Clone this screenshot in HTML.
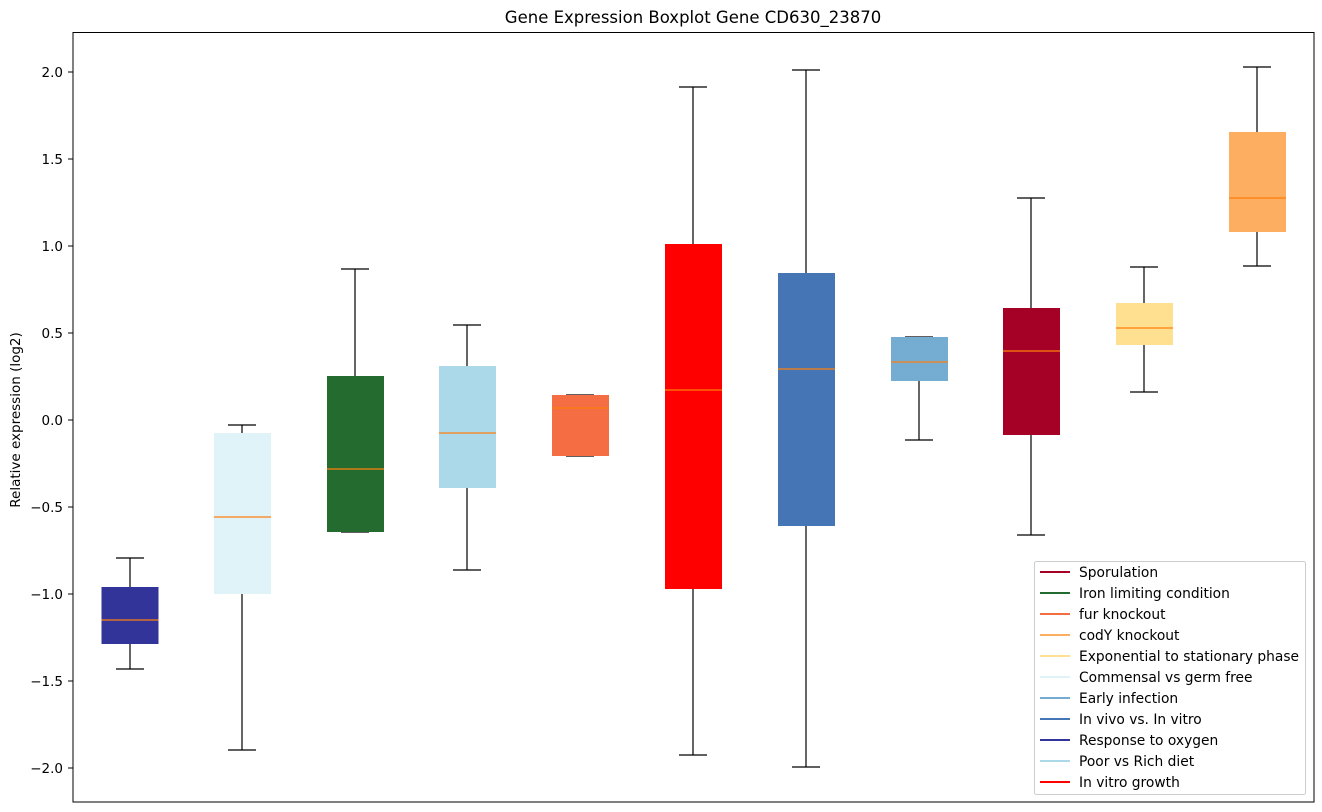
<!DOCTYPE html><html><head><style>body{margin:0;background:#fff}svg{display:block;font-family:"DejaVu Sans","Liberation Sans",sans-serif}</style></head><body>
<svg width="1322" height="812" xmlns="http://www.w3.org/2000/svg">
<rect width="1322" height="812" fill="#fff"/>
<text x="693" y="23" font-size="16.5" text-anchor="middle" fill="#000">Gene Expression Boxplot Gene CD630_23870</text>
<text transform="translate(20,420) rotate(-90)" font-size="13.5" text-anchor="middle">Relative expression (log2)</text>
<g font-size="13.5" text-anchor="end" fill="#000">
<text x="63" y="77">2.0</text><text x="63" y="164">1.5</text><text x="63" y="251">1.0</text><text x="63" y="338">0.5</text><text x="63" y="425">0.0</text><text x="63" y="512">−0.5</text><text x="63" y="599">−1.0</text><text x="63" y="686">−1.5</text><text x="63" y="773">−2.0</text>
</g>
<g stroke="#000" stroke-width="1"><path d="M68 72H73M68 159H73M68 246H73M68 333H73M68 420H73M68 507H73M68 594H73M68 681H73M68 768H73"/></g>
<g stroke="#000" stroke-width="1.2" fill="none">
<path d="M130 558V587M130 644V669M116 558H144M116 669H144"/>
<path d="M242 425V433M242 594V750M228 425H256M228 750H256"/>
<path d="M355 269V376M341 269H369M341 532H369"/>
<path d="M467 325V366M467 488V570M453 325H481M453 570H481"/>
<path d="M566 395H594M566 456H594"/>
<path d="M693 87V244M693 589V755M679 87H707M679 755H707"/>
<path d="M806 70V273M806 526V767M792 70H820M792 767H820"/>
<path d="M919 381V440M905 337H933M905 440H933"/>
<path d="M1031 198V308M1031 435V535M1017 198H1045M1017 535H1045"/>
<path d="M1144 267V303M1144 345V392M1130 267H1158M1130 392H1158"/>
<path d="M1257 67V132M1257 232V266M1243 67H1271M1243 266H1271"/>
</g>
<rect x="101.5" y="587" width="57" height="57" fill="#32349a"/>
<rect x="214" y="433" width="57" height="161" fill="#e0f3f8"/>
<rect x="327" y="376" width="57" height="156" fill="#236b2e"/>
<rect x="439" y="366" width="57" height="122" fill="#abd9e9"/>
<rect x="552" y="395" width="57" height="61" fill="#f46d43"/>
<rect x="665" y="244" width="57" height="345" fill="#ff0000"/>
<rect x="778" y="273" width="57" height="253" fill="#4575b4"/>
<rect x="891" y="337" width="57" height="44" fill="#74add1"/>
<rect x="1003" y="308" width="57" height="127" fill="#a50026"/>
<rect x="1116" y="303" width="57" height="42" fill="#fee090"/>
<rect x="1229" y="132" width="57" height="100" fill="#fdae61"/>
<g stroke="#ff7f0e" stroke-width="1.2"><path d="M101.5 620H158.5M214 517H271M327 469H384M439 433H496M552 408H609M665 390H722M778 369H835M891 362H948M1003 351H1060M1116 328H1173M1229 198H1286"/></g>
<rect x="73" y="32.5" width="1241" height="769.5" fill="none" stroke="#000" stroke-width="1"/>
<rect x="1034.5" y="561.5" width="271" height="233" rx="2" fill="#fff" stroke="#ccc"/>
<g stroke-width="2">
<path d="M1040 572H1070" stroke="#a50026"/><path d="M1040 593H1070" stroke="#236b2e"/><path d="M1040 614H1070" stroke="#f46d43"/><path d="M1040 635H1070" stroke="#fdae61"/><path d="M1040 656H1070" stroke="#fee090"/><path d="M1040 677H1070" stroke="#e0f3f8"/><path d="M1040 698H1070" stroke="#74add1"/><path d="M1040 719H1070" stroke="#4575b4"/><path d="M1040 740H1070" stroke="#32349a"/><path d="M1040 761H1070" stroke="#abd9e9"/><path d="M1040 782H1070" stroke="#ff0000"/>
</g>
<g font-size="13.8" fill="#000">
<text x="1079" y="577">Sporulation</text><text x="1079" y="598">Iron limiting condition</text><text x="1079" y="619">fur knockout</text><text x="1079" y="640">codY knockout</text><text x="1079" y="661">Exponential to stationary phase</text><text x="1079" y="682">Commensal vs germ free</text><text x="1079" y="703">Early infection</text><text x="1079" y="724">In vivo vs. In vitro</text><text x="1079" y="745">Response to oxygen</text><text x="1079" y="766">Poor vs Rich diet</text><text x="1079" y="787">In vitro growth</text>
</g>
</svg></body></html>
